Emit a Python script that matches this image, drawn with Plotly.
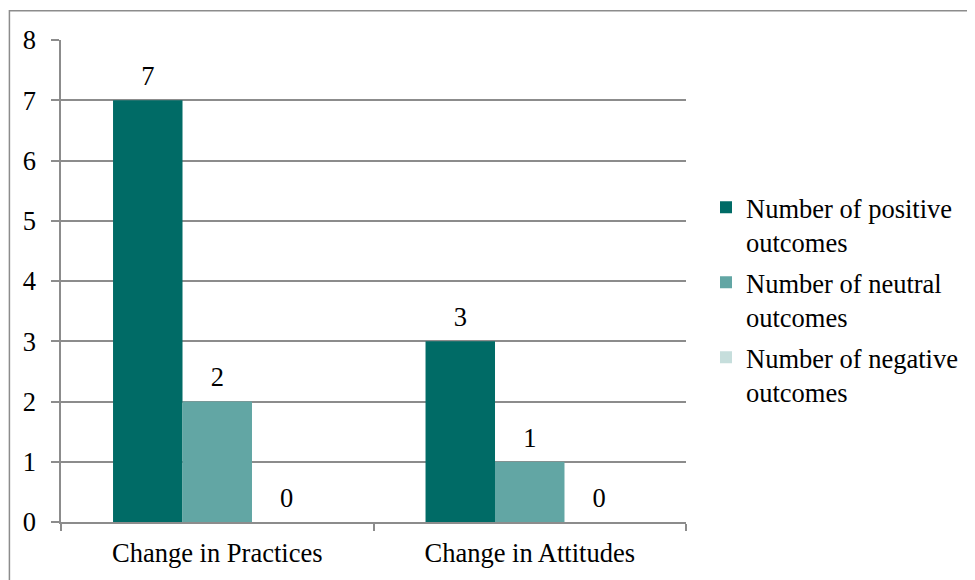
import plotly.graph_objects as go

categories = ["Change in Practices", "Change in Attitudes"]
series_names = ["Number of positive<br>outcomes", "Number of neutral<br>outcomes", "Number of negative<br>outcomes"]
positive = [7, 3]
neutral = [2, 1]
negative = [0, 0]
colors = ["#006B66", "#62A6A4", "#C6DEDC"]

font = dict(family="Liberation Serif, Times New Roman, serif", size=26.5, color="black")
GAP = 0.333

fig = go.Figure()
for i, (name, vals) in enumerate(zip(series_names, [positive, neutral, negative])):
    fig.add_trace(go.Bar(
        x=categories, y=vals, name=name, marker=dict(color=colors[i], line=dict(width=0)),
        offsetgroup=str(i), legendgroup=f"g{i}",
    ))
for i, vals in enumerate([positive, neutral, negative]):
    fig.add_trace(go.Scatter(
        x=categories, y=vals, mode="markers+text", text=[str(v) for v in vals],
        textposition="top center", textfont=font, cliponaxis=False,
        marker=dict(size=12, opacity=0), offsetgroup=str(i), showlegend=False,
        hoverinfo="skip",
    ))

fig.update_layout(
    width=967, height=572,
    margin=dict(l=53, r=284, t=32, b=55),
    paper_bgcolor="white", plot_bgcolor="white",
    font=font,
    barmode="group", bargap=GAP, bargroupgap=0,
    scattermode="group", scattergap=GAP,
    showlegend=True,
    legend=dict(x=1.032, y=0.702, xanchor="left", yanchor="top", font=font,
                tracegroupgap=3, valign="top", itemwidth=30),
    xaxis=dict(showline=True, linecolor="#8c8c8c", linewidth=1.5, ticks="outside",
               tickson="boundaries", ticklen=7, tickcolor="#8c8c8c", tickwidth=1.5,
               showgrid=False, tickfont=font, ticklabelstandoff=6),
    yaxis=dict(range=[0, 8], dtick=1, showline=True, linecolor="#8c8c8c", linewidth=1.5,
               ticks="outside", ticklen=8, tickcolor="#8c8c8c", tickwidth=1.5,
               showgrid=True, gridcolor="#8c8c8c", gridwidth=1.5, zeroline=False,
               tickfont=font, ticklabelstandoff=10),
    shapes=[dict(type="rect", xref="paper", yref="paper",
                 x0=(9 - 61) / 630, x1=1.6, y0=-0.3, y1=(525 - 10.5) / 485,
                 line=dict(color="#8c8c8c", width=1.5), fillcolor="rgba(0,0,0,0)", layer="below")],
)

fig.write_html("out.html")
